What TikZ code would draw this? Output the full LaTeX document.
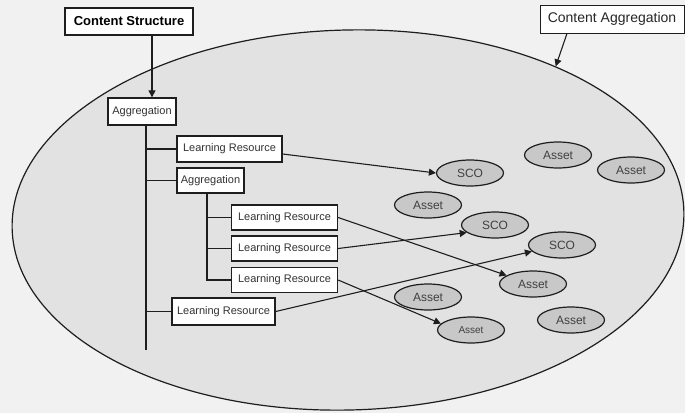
\documentclass[tikz,border=0pt]{standalone}
\usepackage{fontspec}
\setmainfont{Liberation Sans}
\usetikzlibrary{shapes.geometric,arrows.meta}
\definecolor{paper}{HTML}{F1F1F1}
\definecolor{inner}{HTML}{E2E2E2}
\definecolor{blob}{HTML}{C8C8C8}
\definecolor{ink}{HTML}{1E1E1E}

\begin{document}
\begin{tikzpicture}[x=1pt,y=-1pt,
  box/.style={draw=ink,line width=1.3pt,fill=white,inner sep=0pt,
    font=\fontsize{11}{12}\selectfont,text=black!80},
  lrbox/.style={box,minimum width=106pt,minimum height=25pt},
  blobnode/.style={ellipse,draw=ink,line width=1.2pt,fill=blob,inner sep=0pt,
    minimum width=67pt,minimum height=26pt,
    font=\fontsize{12}{13}\selectfont,text=black!75},
  tree/.style={draw=ink,line width=1.1pt},
  link/.style={draw=ink,line width=1.1pt,-{Triangle[length=7pt,width=7pt]}},
]
\fill[paper] (0,0) rectangle (685,413);
\useasboundingbox (0,0) rectangle (685,413);

% the aggregation package
\node[ellipse,draw=ink,line width=1.2pt,fill=inner,inner sep=0pt,
      minimum width=672pt,minimum height=380pt,rotate=1.5] (pkg) at (348,220) {};

% labels above
\node[box,line width=1.8pt,text=black,font=\fontsize{13}{14}\bfseries,
      minimum width=128pt,minimum height=27pt] (cs) at (129,21.5) {Content Structure};
\node[box,line width=1pt,text=black!85,font=\fontsize{14}{15}\selectfont,
      minimum width=144pt,minimum height=28pt] (ca) at (612,19) {Content Aggregation};

% content structure tree
\node[box,minimum width=68pt,minimum height=27pt] (agg1) at (142,111.5) {Aggregation};
\node[box,minimum width=105pt,minimum height=26pt] (lr1) at (229.5,149) {Learning Resource};
\node[box,minimum width=67pt,minimum height=25pt] (agg2) at (210.5,180.5) {Aggregation};
\node[lrbox] (lra) at (284.5,217.5) {Learning Resource};
\node[lrbox] (lrb) at (284.5,248.5) {Learning Resource};
\node[lrbox] (lrc) at (284.5,280) {Learning Resource};
\node[box,minimum width=103pt,minimum height=27pt] (lr4) at (223.5,311.5) {Learning Resource};

\coordinate (trunk) at (146,350);
\coordinate (subtrunk) at (207,0);
\coordinate (drop) at (152,0);

\draw[tree] (agg1.south -| trunk) -- (trunk);
\draw[tree] (lr1.west -| trunk) -- (lr1.west);
\draw[tree] (agg2.west -| trunk) -- (agg2.west);
\draw[tree] (lr4.west -| trunk) -- (lr4.west);
\draw[tree] (agg2.south -| subtrunk) |- (lrc.west);
\draw[tree] (lra.west -| subtrunk) -- (lra.west);
\draw[tree] (lrb.west -| subtrunk) -- (lrb.west);

% SCOs and assets
\node[blobnode] (sco1) at (470,173) {SCO};
\node[blobnode] (assetA) at (558,155) {Asset};
\node[blobnode] (assetB) at (631,170) {Asset};
\node[blobnode] (assetC) at (428,205) {Asset};
\node[blobnode] (sco2) at (495,225) {SCO};
\node[blobnode] (sco3) at (562,245) {SCO};
\node[blobnode] (assetD) at (533,284) {Asset};
\node[blobnode] (assetE) at (428,297) {Asset};
\node[blobnode,font=\fontsize{10}{11}\selectfont] (assetF) at (471,330) {Asset};
\node[blobnode] (assetG) at (571,320) {Asset};

% connectors
\draw[link] (cs.south -| drop) -- (agg1.north -| drop);
\draw[link] ([xshift=-45pt]ca.south) -- (pkg.35);
\draw[link] ([yshift=-5pt]lr1.east) -- (sco1.west);
\draw[link] (lra.east) -- (assetD.162);
\draw[link] (lrb.east) -- (sco2.195);
\draw[link] (lrc.east) -- (assetF.168);
\draw[link] (lr4.east) -- (sco3.192);
\end{tikzpicture}
\end{document}
